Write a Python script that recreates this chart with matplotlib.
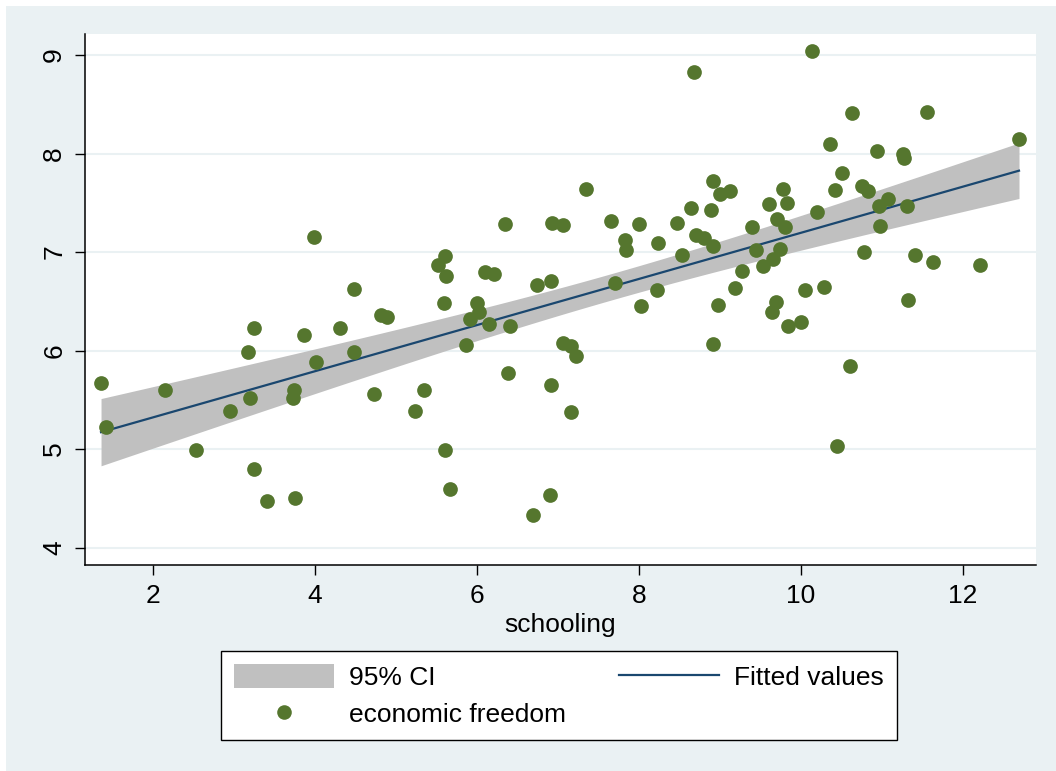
import numpy as np
import matplotlib
matplotlib.use("Agg")
import matplotlib.pyplot as plt
from matplotlib.patches import Patch, Rectangle
from matplotlib.lines import Line2D

plt.rcParams['font.family'] = ['Liberation Sans', 'DejaVu Sans']

# Average years of schooling per country
schooling = [
    1.362, 1.420, 2.148, 2.538, 2.954, 3.177, 3.201, 3.251, 3.251, 3.415,
    3.728, 3.748, 3.760, 3.872, 3.995, 4.016, 4.316, 4.485, 4.485, 4.736,
    4.822, 4.893, 5.238, 5.346, 5.519, 5.605, 5.593, 5.609, 5.625, 5.670,
    5.872, 5.921, 6.007, 6.025, 6.106, 6.156, 6.210, 6.353, 6.390, 6.407,
    6.691, 6.748, 6.901, 6.914, 6.921, 6.930, 7.069, 7.065, 7.168, 7.160,
    7.230, 7.346, 7.662, 7.711, 7.831, 7.843, 8.000, 8.025, 8.222, 8.238,
    8.477, 8.538, 8.649, 8.686, 8.704, 8.806, 8.914, 8.889, 8.921, 8.921,
    8.983, 9.004, 9.127, 9.189, 9.279, 9.402, 9.444, 9.535, 9.609, 9.649,
    9.654, 9.704, 9.691, 9.748, 9.785, 9.806, 9.831, 9.847, 10.007, 10.059,
    10.136, 10.198, 10.288, 10.362, 10.423, 10.448, 10.514, 10.605, 10.637, 10.760,
    10.781, 10.835, 10.946, 10.983, 10.970, 11.078, 11.263, 11.272, 11.316, 11.328,
    11.407, 11.563, 11.633, 12.210, 12.695,
]

# Economic freedom index per country
econ_freedom = [
    5.670, 5.220, 5.602, 4.993, 5.383, 5.988, 5.521, 6.231, 4.800, 4.472,
    5.515, 5.596, 4.499, 6.157, 7.155, 5.886, 6.231, 6.624, 5.982, 5.555,
    6.357, 6.337, 5.383, 5.599, 6.865, 6.959, 6.485, 4.993, 6.753, 4.597,
    6.053, 6.320, 6.479, 6.391, 6.800, 6.266, 6.780, 7.287, 5.775, 6.252,
    4.327, 6.670, 4.530, 6.711, 5.647, 7.297, 7.274, 6.076, 6.043, 5.376,
    5.941, 7.640, 7.312, 6.690, 7.125, 7.020, 7.287, 6.449, 6.619, 7.091,
    7.297, 6.966, 7.447, 8.830, 7.170, 7.142, 7.721, 7.423, 7.058, 6.069,
    6.462, 7.586, 7.616, 6.638, 6.804, 7.254, 7.023, 6.855, 7.490, 6.388,
    6.926, 7.338, 6.492, 7.034, 7.640, 7.254, 7.494, 6.252, 6.289, 6.614,
    9.044, 7.403, 6.645, 8.096, 7.626, 5.027, 7.802, 5.846, 8.408, 7.667,
    6.997, 7.619, 8.022, 7.267, 7.464, 7.538, 7.992, 7.957, 7.464, 6.513,
    6.966, 8.424, 6.898, 6.868, 8.144,
]

x_ticks = [2, 4, 6, 8, 10, 12]
y_ticks = [4, 5, 6, 7, 8, 9]
legend_labels = ["95% CI", "economic freedom", "Fitted values"]

BG = "#EAF1F3"
DOT = "#55762E"
LINE = "#1A476F"
BAND = "#C0C0C0"

# Linear fit with 95% confidence band for the mean prediction
x = np.asarray(schooling)
y = np.asarray(econ_freedom)
n = len(x)
xbar = x.mean()
sxx = np.sum((x - xbar) ** 2)
slope = np.sum((x - xbar) * (y - y.mean())) / sxx
intercept = y.mean() - slope * xbar
resid = y - (intercept + slope * x)
s2 = np.sum(resid ** 2) / (n - 2)
t_crit = 1.981
xg = np.linspace(x.min(), x.max(), 200)
yfit = intercept + slope * xg
se = np.sqrt(s2 * (1.0 / n + (xg - xbar) ** 2 / sxx))
lo, hi = yfit - t_crit * se, yfit + t_crit * se

W, H = 1056, 771
fig = plt.figure(figsize=(W / 100, H / 100), dpi=100, facecolor="white")
fig.patches.append(Rectangle((6 / W, 0), 1, 1 - 6 / H, transform=fig.transFigure,
                             facecolor=BG, edgecolor="none", zorder=-10))

ax = fig.add_axes([85 / W, 1 - 565 / H, (1036 - 85) / W, (565 - 34) / H])
ax.set_facecolor("white")

ax.fill_between(xg, lo, hi, color=BAND, linewidth=0, zorder=2)
ax.plot(xg, yfit, color=LINE, linewidth=1.6, zorder=3)
ax.scatter(x, y, s=112, color=DOT, linewidths=0, zorder=4)

ax.set_xlim(1.164, 12.905)
ax.set_ylim(3.824, 9.213)
ax.set_xticks(x_ticks)
ax.set_yticks(y_ticks)
ax.yaxis.grid(True, color=BG, linewidth=1.5, zorder=0)
ax.set_axisbelow(True)

for side in ("top", "right"):
    ax.spines[side].set_visible(False)
for side in ("left", "bottom"):
    ax.spines[side].set_linewidth(1.1)
    ax.spines[side].set_color("black")

ax.tick_params(axis="both", direction="out", length=7.5, width=1.0, color="black",
               labelsize=19, labelcolor="black")
ax.tick_params(axis="x", pad=6)
ax.tick_params(axis="y", pad=6)
for lbl in ax.get_yticklabels():
    lbl.set_rotation(90)
    lbl.set_va("center")

ax.set_xlabel("schooling", fontsize=19, labelpad=4)

handles = [
    Patch(facecolor=BAND, edgecolor="none"),
    Line2D([], [], marker="o", linestyle="none", markersize=10.5,
           markerfacecolor=DOT, markeredgecolor="none"),
    Line2D([], [], color=LINE, linewidth=1.6),
]
leg = fig.legend(handles, legend_labels, ncol=2, loc="upper center",
                 bbox_to_anchor=(559 / W, 1 - 651 / H), borderaxespad=0,
                 fontsize=19, frameon=True, fancybox=False, framealpha=1,
                 edgecolor="black", facecolor="white",
                 handlelength=3.77, handleheight=1.0, handletextpad=0.57,
                 columnspacing=2.03, labelspacing=0.42, borderpad=0.5)
leg.get_frame().set_linewidth(1.0)

fig.savefig("out.png", dpi=100, facecolor="white")
